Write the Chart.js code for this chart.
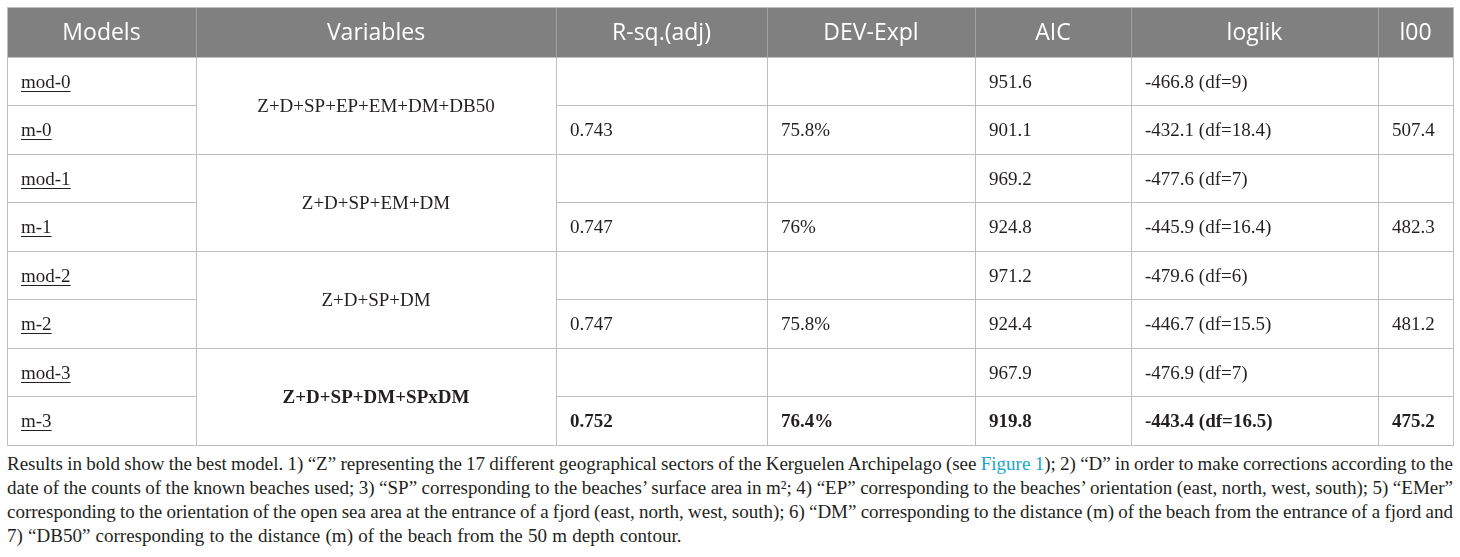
<!DOCTYPE html>
<html>
<head>
<meta charset="utf-8">
<script src="https://cdn.jsdelivr.net/npm/chart.js@4.4.1/dist/chart.umd.min.js"></script>
<style>
  body { margin: 0; background: #fff; }
  #wrap { position: relative; width: 1460px; height: 557px; overflow: hidden; }
  #tbl { position: absolute; left: 0; top: 0; }
  .cap { position: absolute; left: 7px; top: 452px; width: 1446px;
         font: 19px "Liberation Serif", "Times New Roman", serif; line-height: 24px; color: #231f20;
         word-spacing: -1.5px; }
  .cap div { white-space: nowrap; text-align: justify; text-align-last: justify; }
  .cap div.last { text-align-last: left; word-spacing: 0.5px; }
  .cap span.fig { color: #1ba6c9; }
</style>
</head>
<body>
<div id="wrap">
  <canvas id="tbl" width="1460" height="452"></canvas>
  <div class="cap">
    <div>Results in bold show the best model. 1) “Z” representing the 17 different geographical sectors of the Kerguelen Archipelago (see <span class="fig">Figure 1</span>); 2) “D” in order to make corrections according to the</div>
    <div>date of the counts of the known beaches used; 3) “SP” corresponding to the beaches’ surface area in m²; 4) “EP” corresponding to the beaches’ orientation (east, north, west, south); 5) “EMer”</div>
    <div>corresponding to the orientation of the open sea area at the entrance of a fjord (east, north, west, south); 6) “DM” corresponding to the distance (m) of the beach from the entrance of a fjord and</div>
    <div class="last">7) “DB50” corresponding to the distance (m) of the beach from the 50 m depth contour.</div>
  </div>
</div>
<script>
// table content
const headers = ['Models', 'Variables', 'R-sq.(adj)', 'DEV-Expl', 'AIC', 'loglik', 'l00'];
const models = ['mod-0', 'm-0', 'mod-1', 'm-1', 'mod-2', 'm-2', 'mod-3', 'm-3'];
const variables = ['Z+D+SP+EP+EM+DM+DB50', 'Z+D+SP+EM+DM', 'Z+D+SP+DM', 'Z+D+SP+DM+SPxDM'];
const rsq = ['', '0.743', '', '0.747', '', '0.747', '', '0.752'];
const devExpl = ['', '75.8%', '', '76%', '', '75.8%', '', '76.4%'];
const aic = ['951.6', '901.1', '969.2', '924.8', '971.2', '924.4', '967.9', '919.8'];
const loglik = ['-466.8 (df=9)', '-432.1 (df=18.4)', '-477.6 (df=7)', '-445.9 (df=16.4)',
                '-479.6 (df=6)', '-446.7 (df=15.5)', '-476.9 (df=7)', '-443.4 (df=16.5)'];
const l00 = ['', '507.4', '', '482.3', '', '481.2', '', '475.2'];
const bestRow = 7; // m-3 in bold

// layout (x scale units = px across the page)
const colEdges = [7, 196, 556, 767, 975, 1131, 1378, 1453];
const headTop = -1.03;

const bodyColor = '#231f20';
const gridColor = '#bfbfbf';

const tablePlugin = {
  id: 'table',
  beforeDatasetsDraw(chart) {
    const { ctx, scales: { x, y } } = chart;
    const X = v => Math.round(x.getPixelForValue(v)) + 0.5;
    const Y = v => Math.round(y.getPixelForValue(v)) + 0.5;
    const left = X(colEdges[0]), right = X(colEdges[colEdges.length - 1]);
    const top = Y(headTop), bottom = Y(models.length);

    ctx.save();
    // header background
    ctx.fillStyle = '#808080';
    ctx.fillRect(left, top, right - left, Y(0) - top);

    // horizontal grid lines
    ctx.lineWidth = 1;
    ctx.strokeStyle = gridColor;
    for (let i = 1; i < models.length; i++) {
      for (let c = 0; c < colEdges.length - 1; c++) {
        if (c === 1 && i % 2 === 1) continue; // merged variables cell
        ctx.beginPath();
        ctx.moveTo(X(colEdges[c]), Y(i));
        ctx.lineTo(X(colEdges[c + 1]), Y(i));
        ctx.stroke();
      }
    }
    // vertical lines in body
    for (let c = 1; c < colEdges.length - 1; c++) {
      ctx.beginPath();
      ctx.moveTo(X(colEdges[c]), Y(0));
      ctx.lineTo(X(colEdges[c]), bottom);
      ctx.stroke();
    }
    // vertical separators in header
    ctx.strokeStyle = '#a3a3a3';
    for (let c = 1; c < colEdges.length - 1; c++) {
      ctx.beginPath();
      ctx.moveTo(X(colEdges[c]), top);
      ctx.lineTo(X(colEdges[c]), Y(0));
      ctx.stroke();
    }
    // outer border
    ctx.strokeStyle = gridColor;
    ctx.strokeRect(left, top, right - left, bottom - top);

    // header labels
    ctx.fillStyle = '#ffffff';
    ctx.font = '23px "Open Sans", sans-serif';
    ctx.textAlign = 'center';
    ctx.textBaseline = 'middle';
    headers.forEach((h, c) => {
      const cx = (x.getPixelForValue(colEdges[c]) + x.getPixelForValue(colEdges[c + 1])) / 2;
      ctx.fillText(h, cx, (y.getPixelForValue(headTop) + y.getPixelForValue(0)) / 2 + 1);
    });

    // body cells
    const serif = '"Liberation Serif", "Times New Roman", serif';
    const pad = 14;
    ctx.fillStyle = bodyColor;
    ctx.textBaseline = 'alphabetic';
    const cols = [null, null, rsq, devExpl, aic, loglik, l00];
    models.forEach((m, i) => {
      const base = y.getPixelForValue(i + 0.5) + 6.5;
      // model name, underlined, never bold
      ctx.font = '19px ' + serif;
      ctx.textAlign = 'left';
      const mx = x.getPixelForValue(colEdges[0]) + pad;
      ctx.fillText(m, mx, base);
      const w = ctx.measureText(m).width;
      ctx.fillRect(mx, Math.round(base + 3), w, 1);

      ctx.font = (i === bestRow ? 'bold ' : '') + '19px ' + serif;
      for (let c = 2; c < cols.length; c++) {
        const v = cols[c][i];
        if (v) ctx.fillText(v, x.getPixelForValue(colEdges[c]) + pad, base);
      }
    });
    // merged variables cells
    ctx.textAlign = 'center';
    variables.forEach((v, g) => {
      ctx.font = (g * 2 + 1 === bestRow ? 'bold ' : '') + '19px ' + serif;
      const cx = (x.getPixelForValue(colEdges[1]) + x.getPixelForValue(colEdges[2])) / 2;
      ctx.fillText(v, cx, y.getPixelForValue(g * 2 + 1) + 6.5);
    });
    ctx.restore();
  }
};

const ctx = document.getElementById('tbl').getContext('2d');
const tableChart = new Chart(ctx, {
  type: 'scatter',
  data: { datasets: [] },
  options: {
    responsive: false,
    animation: false,
    events: [],
    layout: { padding: { top: 7, bottom: 7, left: 0, right: 0 } },
    plugins: {
      legend: { display: false },
      tooltip: { enabled: false },
    },
    scales: {
      x: { type: 'linear', min: 0, max: 1460, display: false },
      y: { type: 'linear', min: headTop, max: models.length, reverse: true, display: false },
    },
  },
  plugins: [tablePlugin],
});
</script>
</body>
</html>
